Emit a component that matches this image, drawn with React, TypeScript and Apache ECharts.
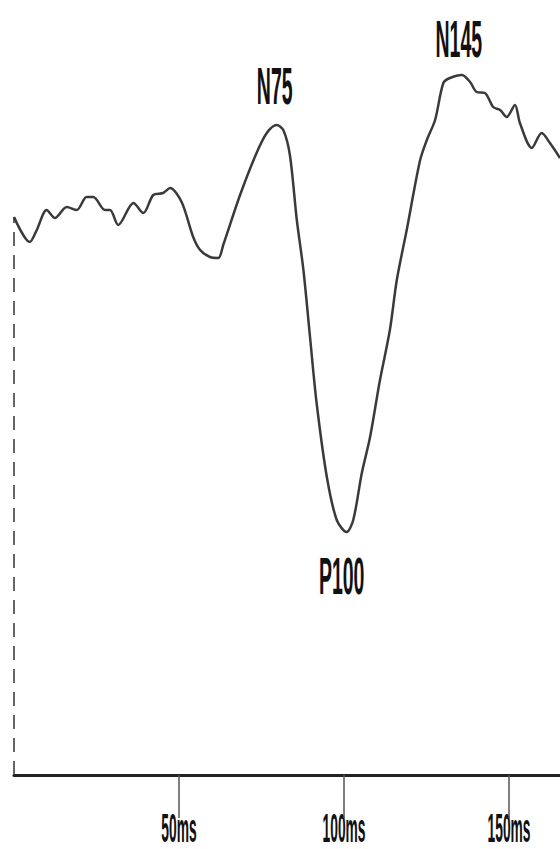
import React, { useEffect, useRef } from "react";
import * as echarts from "echarts";

// Waveform samples (latency in ms, amplitude in arbitrary µV units)
const timeMs = [
  0, 4.8, 6.9, 9.9, 12.4, 16.0, 19.0, 22.0, 24.0, 27.6, 29.1, 31.6, 36.2, 39.2,
  42.2, 45.2, 47.3, 50.8, 54.3, 56.4, 59.4, 61.9, 63.4, 68.5, 73.5, 76.6, 79.6,
  81.6, 83.6, 85.7, 87.7, 89.7, 91.7, 94.8, 97.8, 100.8, 102.8, 105.4, 107.9,
  110.9, 113.9, 116.0, 119.0, 123.0, 125.1, 127.6, 130.1, 132.1, 135.7, 138.2,
  140.2, 142.7, 145.2, 147.3, 149.3, 151.8, 153.3, 156.9, 159.9, 162.4, 165.45,
];
const amplitude = [
  55.8, 53.3, 54.5, 56.5, 55.7, 56.8, 56.5, 57.8, 57.8, 56.5, 56.5, 55.0, 57.2,
  56.2, 58.0, 58.2, 58.7, 57.3, 53.8, 52.5, 51.8, 51.7, 53.0, 58.0, 62.2, 64.2,
  65.0, 64.5, 62.0, 55.5, 50.5, 43.8, 37.2, 29.8, 25.5, 24.3, 25.5, 30.2, 33.8,
  39.5, 44.5, 49.5, 54.5, 61.4, 63.5, 65.5, 69.2, 69.7, 70.0, 69.3, 68.3, 68.2,
  66.8, 66.5, 65.8, 67.0, 65.2, 62.7, 64.2, 63.2, 61.7,
];

const tickValues = [50, 100, 150];
const tickLabels = ["50ms", "100ms", "150ms"];

const peakNames = ["N75", "P100", "N145"];
const peakTimes = [79.6, 100.8, 135.7];
const peakAmps = [65.0, 24.3, 70.0];

export default function App() {
  const ref = useRef<HTMLDivElement>(null);

  useEffect(() => {
    document.body.style.margin = "0";
    const chart = echarts.init(ref.current!, null, { renderer: "svg" });
    const option: any = {
      animation: false,
      backgroundColor: "#ffffff",
      grid: { left: 14, right: 0, top: 0, bottom: 74 },
      xAxis: {
        type: "value",
        min: 0,
        max: 165.45,
        interval: 50,
        axisLine: { show: true, onZero: false, lineStyle: { color: "#222", width: 3 } },
        axisTick: {
          show: true,
          customValues: tickValues,
          length: 43,
          lineStyle: { color: "#555", width: 1.5 },
        },
        axisLabel: { show: false },
        splitLine: { show: false },
      },
      yAxis: {
        type: "value",
        min: 0,
        max: 77.5,
        show: false,
        splitLine: { show: false },
      },
      series: [
        {
          type: "line",
          data: timeMs.map((t, i) => [t, amplitude[i]]),
          showSymbol: false,
          smooth: 0.3,
          lineStyle: { color: "#3a3a3a", width: 2.5 },
          silent: true,
          markLine: {
            silent: true,
            symbol: ["none", "none"],
            label: { show: false },
            lineStyle: { type: [14, 9], color: "#333", width: 1.5 },
            data: [[{ coord: [0, 0] }, { coord: [timeMs[0], amplitude[0]] }]],
          },
        },
      ],
    };
    chart.setOption(option);

    const graphics: any[] = [];
    const font = "'Liberation Sans', Arial, sans-serif";
    tickValues.forEach((v, i) => {
      const p = chart.convertToPixel({ seriesIndex: 0 }, [v, 0]) as number[];
      graphics.push({
        type: "text",
        x: p[0],
        y: p[1] + 53,
        scaleY: 2.9,
        style: {
          text: tickLabels[i],
          fontFamily: font,
          fontWeight: "bold",
          fontSize: 13.8,
          fill: "#111",
          align: "center",
          verticalAlign: "middle",
        },
      });
    });
    const offsets = [
      [-2, -40],
      [-5, 43],
      [-3, -37],
    ];
    peakNames.forEach((name, i) => {
      const p = chart.convertToPixel({ seriesIndex: 0 }, [peakTimes[i], peakAmps[i]]) as number[];
      graphics.push({
        type: "text",
        x: p[0] + offsets[i][0],
        y: p[1] + offsets[i][1],
        scaleY: 2.7,
        style: {
          text: name,
          fontFamily: font,
          fontWeight: "bold",
          fontSize: 19.5,
          fill: "#111",
          align: "center",
          verticalAlign: "middle",
        },
      });
    });
    chart.setOption({ graphic: graphics });

    return () => chart.dispose();
  }, []);

  return <div ref={ref} style={{ width: 560, height: 849 }} />;
}
